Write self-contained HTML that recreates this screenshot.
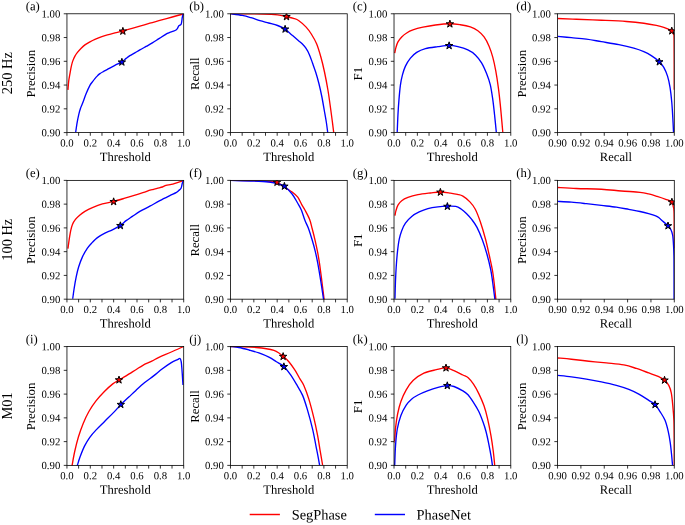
<!DOCTYPE html>
<html lang="en">
<head>
<meta charset="utf-8">
<title>Precision, Recall and F1 curves: SegPhase vs PhaseNet</title>
<style>
html,body{margin:0;padding:0;background:#fff;}
body{width:685px;height:525px;overflow:hidden;font-family:"Liberation Serif",serif;}
svg{display:block;will-change:transform;}
</style>
</head>
<body>
<svg width="685" height="525" viewBox="0 0 685 525" font-family="'Liberation Serif', serif" fill="#000">
<rect width="685" height="525" fill="#fff"/>
<defs>
<clipPath id="cpa"><rect x="66.95" y="13.78" width="116.75" height="118.8"/></clipPath>
<clipPath id="cpb"><rect x="230.48" y="13.78" width="116.75" height="118.8"/></clipPath>
<clipPath id="cpc"><rect x="394.02" y="13.78" width="116.75" height="118.8"/></clipPath>
<clipPath id="cpd"><rect x="557.55" y="13.78" width="116.75" height="118.8"/></clipPath>
<clipPath id="cpe"><rect x="66.95" y="180.38" width="116.75" height="118.8"/></clipPath>
<clipPath id="cpf"><rect x="230.48" y="180.38" width="116.75" height="118.8"/></clipPath>
<clipPath id="cpg"><rect x="394.02" y="180.38" width="116.75" height="118.8"/></clipPath>
<clipPath id="cph"><rect x="557.55" y="180.38" width="116.75" height="118.8"/></clipPath>
<clipPath id="cpi"><rect x="66.95" y="346.58" width="116.75" height="118.8"/></clipPath>
<clipPath id="cpj"><rect x="230.48" y="346.58" width="116.75" height="118.8"/></clipPath>
<clipPath id="cpk"><rect x="394.02" y="346.58" width="116.75" height="118.8"/></clipPath>
<clipPath id="cpl"><rect x="557.55" y="346.58" width="116.75" height="118.8"/></clipPath>
</defs>
<g id="plot-a">
<g clip-path="url(#cpa)" fill="none" stroke-width="1.35" stroke-linejoin="round">
<path d="M67.96 89.84 C68.08 88.38 68.38 83.8 68.71 81.1 C69.04 78.4 69.54 75.99 69.96 73.62 C70.38 71.25 70.74 68.96 71.2 66.88 C71.66 64.8 72.08 62.93 72.7 61.14 C73.33 59.35 74.16 57.6 74.95 56.15 C75.74 54.7 76.41 53.74 77.45 52.41 C78.49 51.08 79.94 49.42 81.19 48.17 C82.44 46.92 83.47 45.96 84.93 44.92 C86.39 43.88 88.27 42.84 89.93 41.93 C91.59 41.02 93.05 40.26 94.92 39.43 C96.79 38.6 99.08 37.69 101.16 36.94 C103.24 36.19 105.11 35.6 107.4 34.94 C109.69 34.27 112.31 33.62 114.89 32.95 C117.47 32.29 120.17 31.66 122.88 30.95 C125.58 30.24 128.29 29.49 131.12 28.7 C133.95 27.91 136.73 27.12 139.85 26.21 C142.97 25.3 146.51 24.18 149.84 23.22 C153.17 22.26 156.07 21.51 159.82 20.47 C163.56 19.43 168.4 18.06 172.31 16.98 C176.22 15.9 181.46 14.48 183.29 13.98" stroke="#ff0000"/>
<path d="M75.7 132.26 C75.91 130.8 76.45 126.43 76.95 123.52 C77.45 120.61 78.11 117.29 78.69 114.79 C79.27 112.3 79.81 110.42 80.44 108.55 C81.06 106.68 81.48 106.06 82.44 103.56 C83.4 101.06 84.93 96.61 86.18 93.58 C87.43 90.55 88.89 87.3 89.93 85.35 C90.97 83.39 91.59 82.97 92.42 81.85 C93.25 80.73 94.09 79.61 94.92 78.61 C95.75 77.61 96.59 76.69 97.42 75.86 C98.25 75.03 98.87 74.37 99.91 73.62 C100.95 72.87 102.41 72.08 103.66 71.37 C104.91 70.66 105.53 70.38 107.4 69.38 C109.27 68.38 112.48 66.63 114.89 65.38 C117.3 64.13 120.01 63.05 121.88 61.89 C123.75 60.73 124.79 59.44 126.12 58.4 C127.45 57.36 128.41 56.56 129.87 55.65 C131.33 54.73 133.2 53.87 134.86 52.91 C136.52 51.95 137.98 50.99 139.85 49.91 C141.72 48.83 144.01 47.58 146.09 46.42 C148.17 45.26 150.26 44.18 152.34 42.93 C154.42 41.68 156.5 40.27 158.58 38.94 C160.66 37.61 163.37 35.85 164.82 34.94 C166.27 34.02 166.48 33.87 167.31 33.45 C168.14 33.04 168.77 32.83 169.81 32.45 C170.85 32.08 172.51 31.62 173.55 31.2 C174.59 30.78 175.38 30.45 176.05 29.95 C176.72 29.45 177.13 28.83 177.55 28.21 C177.97 27.59 178.18 26.71 178.55 26.21 C178.93 25.71 179.39 25.5 179.8 25.21 C180.22 24.92 180.71 25.12 181.04 24.46 C181.37 23.8 181.58 22.38 181.79 21.22 C182 20.06 182.04 18.69 182.29 17.48 C182.54 16.27 183.12 14.56 183.29 13.98" stroke="#0000ff"/>
<path d="M122.88 27.35 L123.76 30.04 L126.59 30.04 L124.3 31.71 L125.17 34.41 L122.88 32.74 L120.59 34.41 L121.46 31.71 L119.17 30.04 L122 30.04Z" fill="#ff0000" stroke="#000" stroke-width="1.0" stroke-linejoin="miter"/>
<path d="M121.88 58.29 L122.76 60.98 L125.59 60.98 L123.3 62.65 L124.17 65.35 L121.88 63.68 L119.59 65.35 L120.46 62.65 L118.17 60.98 L121 60.98Z" fill="#0000ff" stroke="#000" stroke-width="1.0" stroke-linejoin="miter"/>
</g>
<rect x="66.95" y="13.78" width="116.75" height="118.8" fill="none" stroke="#000" stroke-width="0.8"/>
<path d="M66.95 132.58v3.2M78.62 132.58v3.2M90.3 132.58v3.2M101.97 132.58v3.2M113.65 132.58v3.2M125.33 132.58v3.2M137 132.58v3.2M148.68 132.58v3.2M160.35 132.58v3.2M172.03 132.58v3.2M183.7 132.58v3.2M66.95 132.58h-3.2M66.95 108.82h-3.2M66.95 85.06h-3.2M66.95 61.3h-3.2M66.95 37.54h-3.2M66.95 13.78h-3.2" stroke="#000" stroke-width="0.8" fill="none"/>
<g font-size="10.75">
<text x="66.95" y="146.43" transform="rotate(0.03 66.95 146.43)" text-anchor="middle">0.0</text>
<text x="90.3" y="146.43" transform="rotate(0.03 90.3 146.43)" text-anchor="middle">0.2</text>
<text x="113.65" y="146.43" transform="rotate(0.03 113.65 146.43)" text-anchor="middle">0.4</text>
<text x="137" y="146.43" transform="rotate(0.03 137 146.43)" text-anchor="middle">0.6</text>
<text x="160.35" y="146.43" transform="rotate(0.03 160.35 146.43)" text-anchor="middle">0.8</text>
<text x="183.7" y="146.43" transform="rotate(0.03 183.7 146.43)" text-anchor="middle">1.0</text>
<text x="60.25" y="136.33" transform="rotate(0.03 60.25 136.33)" text-anchor="end">0.90</text>
<text x="60.25" y="112.57" transform="rotate(0.03 60.25 112.57)" text-anchor="end">0.92</text>
<text x="60.25" y="88.81" transform="rotate(0.03 60.25 88.81)" text-anchor="end">0.94</text>
<text x="60.25" y="65.05" transform="rotate(0.03 60.25 65.05)" text-anchor="end">0.96</text>
<text x="60.25" y="41.29" transform="rotate(0.03 60.25 41.29)" text-anchor="end">0.98</text>
<text x="60.25" y="17.53" transform="rotate(0.03 60.25 17.53)" text-anchor="end">1.00</text>
</g>
<text x="125.33" y="160.98" transform="rotate(0.03 125.33 160.98)" text-anchor="middle" font-size="12.6">Threshold</text>
<text transform="translate(35.05 73.68) rotate(-90)" font-size="12.8" text-anchor="middle">Precision</text>
<text x="25.75" y="10.33" transform="rotate(0.03 25.75 10.33)" font-size="12.7">(a)</text>
</g>
<g id="plot-b">
<g clip-path="url(#cpb)" fill="none" stroke-width="1.35" stroke-linejoin="round">
<path d="M230.5 13.66 C235.98 13.72 255.55 13.79 263.4 14 C271.25 14.21 273.75 14.45 277.6 14.9 C281.45 15.35 283.85 16.12 286.5 16.7 C289.15 17.28 291.43 17.73 293.5 18.4 C295.57 19.07 296.83 19.28 298.9 20.7 C300.97 22.12 303.83 24.68 305.9 26.9 C307.97 29.12 309.52 31.18 311.3 34 C313.08 36.82 314.98 39.88 316.6 43.8 C318.22 47.72 319.68 52.8 321 57.5 C322.32 62.2 323.33 66.5 324.5 72 C325.67 77.5 326.98 84.42 328 90.5 C329.02 96.58 329.87 103.25 330.6 108.5 C331.33 113.75 331.88 118.03 332.4 122 C332.92 125.97 333.47 130.38 333.7 132.3 C333.93 134.22 333.78 133.3 333.8 133.5" stroke="#ff0000"/>
<path d="M230.5 13.66 C232.45 13.95 238.78 14.73 242.2 15.4 C245.62 16.07 248.05 16.82 251 17.7 C253.95 18.58 256.95 19.82 259.9 20.7 C262.85 21.58 265.75 22.2 268.7 23 C271.65 23.8 274.88 24.48 277.6 25.5 C280.32 26.52 282.63 27.53 285 29.1 C287.37 30.67 289.63 33.05 291.8 34.9 C293.97 36.75 296.23 38.7 298 40.2 C299.77 41.7 301.08 42.57 302.4 43.9 C303.72 45.23 304.75 46.45 305.9 48.2 C307.05 49.95 308.2 51.93 309.3 54.4 C310.4 56.87 311.42 59.98 312.5 63 C313.58 66.02 314.73 69.08 315.8 72.5 C316.87 75.92 317.9 79.5 318.9 83.5 C319.9 87.5 320.9 92 321.8 96.5 C322.7 101 323.55 106.25 324.3 110.5 C325.05 114.75 325.73 118.37 326.3 122 C326.87 125.63 327.44 130.38 327.7 132.3 C327.96 134.22 327.83 133.3 327.85 133.5" stroke="#0000ff"/>
<path d="M286.5 12.85 L287.38 15.54 L290.21 15.54 L287.92 17.21 L288.79 19.91 L286.5 18.24 L284.21 19.91 L285.08 17.21 L282.79 15.54 L285.62 15.54Z" fill="#ff0000" stroke="#000" stroke-width="1.0" stroke-linejoin="miter"/>
<path d="M285.1 25.3 L285.98 27.99 L288.81 27.99 L286.52 29.66 L287.39 32.36 L285.1 30.69 L282.81 32.36 L283.68 29.66 L281.39 27.99 L284.22 27.99Z" fill="#0000ff" stroke="#000" stroke-width="1.0" stroke-linejoin="miter"/>
</g>
<rect x="230.48" y="13.78" width="116.75" height="118.8" fill="none" stroke="#000" stroke-width="0.8"/>
<path d="M230.48 132.58v3.2M242.16 132.58v3.2M253.83 132.58v3.2M265.5 132.58v3.2M277.18 132.58v3.2M288.86 132.58v3.2M300.53 132.58v3.2M312.2 132.58v3.2M323.88 132.58v3.2M335.56 132.58v3.2M347.23 132.58v3.2M230.48 132.58h-3.2M230.48 108.82h-3.2M230.48 85.06h-3.2M230.48 61.3h-3.2M230.48 37.54h-3.2M230.48 13.78h-3.2" stroke="#000" stroke-width="0.8" fill="none"/>
<g font-size="10.75">
<text x="230.48" y="146.43" transform="rotate(0.03 230.48 146.43)" text-anchor="middle">0.0</text>
<text x="253.83" y="146.43" transform="rotate(0.03 253.83 146.43)" text-anchor="middle">0.2</text>
<text x="277.18" y="146.43" transform="rotate(0.03 277.18 146.43)" text-anchor="middle">0.4</text>
<text x="300.53" y="146.43" transform="rotate(0.03 300.53 146.43)" text-anchor="middle">0.6</text>
<text x="323.88" y="146.43" transform="rotate(0.03 323.88 146.43)" text-anchor="middle">0.8</text>
<text x="347.23" y="146.43" transform="rotate(0.03 347.23 146.43)" text-anchor="middle">1.0</text>
<text x="223.78" y="136.33" transform="rotate(0.03 223.78 136.33)" text-anchor="end">0.90</text>
<text x="223.78" y="112.57" transform="rotate(0.03 223.78 112.57)" text-anchor="end">0.92</text>
<text x="223.78" y="88.81" transform="rotate(0.03 223.78 88.81)" text-anchor="end">0.94</text>
<text x="223.78" y="65.05" transform="rotate(0.03 223.78 65.05)" text-anchor="end">0.96</text>
<text x="223.78" y="41.29" transform="rotate(0.03 223.78 41.29)" text-anchor="end">0.98</text>
<text x="223.78" y="17.53" transform="rotate(0.03 223.78 17.53)" text-anchor="end">1.00</text>
</g>
<text x="288.86" y="160.98" transform="rotate(0.03 288.86 160.98)" text-anchor="middle" font-size="12.6">Threshold</text>
<text transform="translate(198.58 73.68) rotate(-90)" font-size="12.8" text-anchor="middle">Recall</text>
<text x="189.28" y="10.33" transform="rotate(0.03 189.28 10.33)" font-size="12.7">(b)</text>
</g>
<g id="plot-c">
<g clip-path="url(#cpc)" fill="none" stroke-width="1.35" stroke-linejoin="round">
<path d="M394.71 53.16 C394.92 52.2 395.42 49.29 395.96 47.42 C396.5 45.55 397 43.68 397.96 41.93 C398.92 40.18 400.25 38.44 401.7 36.94 C403.15 35.44 404.82 34.12 406.69 32.95 C408.56 31.79 410.23 30.91 412.93 29.95 C415.63 28.99 419.18 28.04 422.92 27.21 C426.67 26.38 430.91 25.54 435.4 24.96 C439.89 24.38 445.72 23.75 449.88 23.71 C454.04 23.67 456.95 24.17 460.36 24.71 C463.77 25.25 467.44 25.96 470.35 26.96 C473.26 27.96 475.55 29.04 477.84 30.7 C480.13 32.36 482.21 34.36 484.08 36.94 C485.95 39.52 487.61 42.76 489.07 46.17 C490.53 49.58 491.7 53.24 492.82 57.4 C493.94 61.56 494.89 66.13 495.81 71.12 C496.73 76.11 497.56 81.73 498.31 87.34 C499.06 92.95 499.73 99.2 500.31 104.81 C500.89 110.42 501.38 116.45 501.8 121.03 C502.22 125.61 502.63 130.39 502.8 132.26" stroke="#ff0000"/>
<path d="M397.21 132.26 C397.33 129.35 397.67 120.2 397.96 114.79 C398.25 109.38 398.53 104.81 398.95 99.82 C399.37 94.83 399.87 89.01 400.45 84.85 C401.03 80.69 401.62 77.99 402.45 74.87 C403.28 71.75 404.12 68.92 405.45 66.13 C406.78 63.34 408.57 60.44 410.44 58.15 C412.31 55.86 414.18 53.99 416.68 52.41 C419.18 50.83 421.88 49.63 425.42 48.67 C428.96 47.71 433.95 47.21 437.9 46.67 C441.85 46.13 445.8 45.42 449.13 45.42 C452.46 45.42 454.75 45.92 457.87 46.67 C460.99 47.42 464.94 48.54 467.85 49.91 C470.76 51.28 473.05 52.74 475.34 54.9 C477.63 57.06 479.71 59.77 481.58 62.89 C483.45 66.01 485.12 69.96 486.58 73.62 C488.04 77.28 489.28 80.48 490.32 84.85 C491.36 89.22 492.11 94.83 492.82 99.82 C493.53 104.81 493.98 109.38 494.56 114.79 C495.14 120.2 496.02 129.35 496.31 132.26" stroke="#0000ff"/>
<path d="M449.88 20.11 L450.76 22.8 L453.59 22.8 L451.3 24.47 L452.17 27.17 L449.88 25.5 L447.59 27.17 L448.46 24.47 L446.17 22.8 L449 22.8Z" fill="#ff0000" stroke="#000" stroke-width="1.0" stroke-linejoin="miter"/>
<path d="M449.13 41.82 L450.01 44.51 L452.84 44.51 L450.55 46.18 L451.42 48.88 L449.13 47.21 L446.84 48.88 L447.71 46.18 L445.42 44.51 L448.25 44.51Z" fill="#0000ff" stroke="#000" stroke-width="1.0" stroke-linejoin="miter"/>
</g>
<rect x="394.02" y="13.78" width="116.75" height="118.8" fill="none" stroke="#000" stroke-width="0.8"/>
<path d="M394.02 132.58v3.2M405.69 132.58v3.2M417.37 132.58v3.2M429.04 132.58v3.2M440.72 132.58v3.2M452.39 132.58v3.2M464.07 132.58v3.2M475.75 132.58v3.2M487.42 132.58v3.2M499.09 132.58v3.2M510.77 132.58v3.2M394.02 132.58h-3.2M394.02 108.82h-3.2M394.02 85.06h-3.2M394.02 61.3h-3.2M394.02 37.54h-3.2M394.02 13.78h-3.2" stroke="#000" stroke-width="0.8" fill="none"/>
<g font-size="10.75">
<text x="394.02" y="146.43" transform="rotate(0.03 394.02 146.43)" text-anchor="middle">0.0</text>
<text x="417.37" y="146.43" transform="rotate(0.03 417.37 146.43)" text-anchor="middle">0.2</text>
<text x="440.72" y="146.43" transform="rotate(0.03 440.72 146.43)" text-anchor="middle">0.4</text>
<text x="464.07" y="146.43" transform="rotate(0.03 464.07 146.43)" text-anchor="middle">0.6</text>
<text x="487.42" y="146.43" transform="rotate(0.03 487.42 146.43)" text-anchor="middle">0.8</text>
<text x="510.77" y="146.43" transform="rotate(0.03 510.77 146.43)" text-anchor="middle">1.0</text>
<text x="387.32" y="136.33" transform="rotate(0.03 387.32 136.33)" text-anchor="end">0.90</text>
<text x="387.32" y="112.57" transform="rotate(0.03 387.32 112.57)" text-anchor="end">0.92</text>
<text x="387.32" y="88.81" transform="rotate(0.03 387.32 88.81)" text-anchor="end">0.94</text>
<text x="387.32" y="65.05" transform="rotate(0.03 387.32 65.05)" text-anchor="end">0.96</text>
<text x="387.32" y="41.29" transform="rotate(0.03 387.32 41.29)" text-anchor="end">0.98</text>
<text x="387.32" y="17.53" transform="rotate(0.03 387.32 17.53)" text-anchor="end">1.00</text>
</g>
<text x="452.39" y="160.98" transform="rotate(0.03 452.39 160.98)" text-anchor="middle" font-size="12.6">Threshold</text>
<text transform="translate(362.12 73.68) rotate(-90)" font-size="12.8" text-anchor="middle">F1</text>
<text x="352.82" y="10.33" transform="rotate(0.03 352.82 10.33)" font-size="12.7">(c)</text>
</g>
<g id="plot-d">
<g clip-path="url(#cpd)" fill="none" stroke-width="1.35" stroke-linejoin="round">
<path d="M557.69 18.47 C560.81 18.59 569.13 18.93 576.41 19.22 C583.69 19.51 593.05 19.84 601.37 20.22 C609.69 20.59 619.27 20.97 626.34 21.47 C633.41 21.97 638.82 22.55 643.81 23.22 C648.8 23.88 652.96 24.75 656.29 25.46 C659.62 26.17 661.28 26.59 663.78 27.46 C666.28 28.33 669.7 29.66 671.27 30.7 C672.84 31.74 672.73 32.25 673.2 33.7 C673.67 35.16 673.93 30.07 674.1 39.43 C674.27 48.79 674.23 81.44 674.25 89.84" stroke="#ff0000"/>
<path d="M557.69 36.44 C559.98 36.65 566.64 37.23 571.42 37.69 C576.2 38.15 581.4 38.52 586.39 39.18 C591.38 39.84 595.96 40.77 601.37 41.68 C606.78 42.59 613.44 43.59 618.85 44.67 C624.26 45.75 629.66 47.01 633.82 48.17 C637.98 49.34 640.9 50.41 643.81 51.66 C646.72 52.91 648.72 53.99 651.3 55.65 C653.88 57.31 657.21 59.69 659.29 61.64 C661.37 63.59 662.41 64.97 663.78 67.38 C665.15 69.79 666.49 72.78 667.53 76.11 C668.57 79.44 669.31 82.97 670.02 87.34 C670.73 91.71 671.31 97.32 671.77 102.31 C672.23 107.3 672.48 112.3 672.77 117.29 C673.06 122.28 673.39 129.76 673.52 132.26" stroke="#0000ff"/>
<path d="M671.77 27.1 L672.65 29.79 L675.48 29.79 L673.19 31.46 L674.06 34.16 L671.77 32.49 L669.48 34.16 L670.35 31.46 L668.06 29.79 L670.89 29.79Z" fill="#ff0000" stroke="#000" stroke-width="1.0" stroke-linejoin="miter"/>
<path d="M659.29 58.04 L660.17 60.73 L663 60.73 L660.71 62.4 L661.58 65.1 L659.29 63.43 L657 65.1 L657.87 62.4 L655.58 60.73 L658.41 60.73Z" fill="#0000ff" stroke="#000" stroke-width="1.0" stroke-linejoin="miter"/>
</g>
<rect x="557.55" y="13.78" width="116.75" height="118.8" fill="none" stroke="#000" stroke-width="0.8"/>
<path d="M557.55 132.58v3.2M580.9 132.58v3.2M604.25 132.58v3.2M627.6 132.58v3.2M650.95 132.58v3.2M674.3 132.58v3.2M557.55 132.58h-3.2M557.55 108.82h-3.2M557.55 85.06h-3.2M557.55 61.3h-3.2M557.55 37.54h-3.2M557.55 13.78h-3.2" stroke="#000" stroke-width="0.8" fill="none"/>
<g font-size="10.75">
<text x="557.55" y="146.43" transform="rotate(0.03 557.55 146.43)" text-anchor="middle">0.90</text>
<text x="580.9" y="146.43" transform="rotate(0.03 580.9 146.43)" text-anchor="middle">0.92</text>
<text x="604.25" y="146.43" transform="rotate(0.03 604.25 146.43)" text-anchor="middle">0.94</text>
<text x="627.6" y="146.43" transform="rotate(0.03 627.6 146.43)" text-anchor="middle">0.96</text>
<text x="650.95" y="146.43" transform="rotate(0.03 650.95 146.43)" text-anchor="middle">0.98</text>
<text x="674.3" y="146.43" transform="rotate(0.03 674.3 146.43)" text-anchor="middle">1.00</text>
<text x="550.85" y="136.33" transform="rotate(0.03 550.85 136.33)" text-anchor="end">0.90</text>
<text x="550.85" y="112.57" transform="rotate(0.03 550.85 112.57)" text-anchor="end">0.92</text>
<text x="550.85" y="88.81" transform="rotate(0.03 550.85 88.81)" text-anchor="end">0.94</text>
<text x="550.85" y="65.05" transform="rotate(0.03 550.85 65.05)" text-anchor="end">0.96</text>
<text x="550.85" y="41.29" transform="rotate(0.03 550.85 41.29)" text-anchor="end">0.98</text>
<text x="550.85" y="17.53" transform="rotate(0.03 550.85 17.53)" text-anchor="end">1.00</text>
</g>
<text x="615.92" y="160.98" transform="rotate(0.03 615.92 160.98)" text-anchor="middle" font-size="12.6">Recall</text>
<text transform="translate(525.65 73.68) rotate(-90)" font-size="12.8" text-anchor="middle">Precision</text>
<text x="516.35" y="10.33" transform="rotate(0.03 516.35 10.33)" font-size="12.7">(d)</text>
</g>
<text transform="translate(12.2 73.18) rotate(-90)" font-size="14.4" text-anchor="middle">250 Hz</text>
<g id="plot-e">
<g clip-path="url(#cpe)" fill="none" stroke-width="1.35" stroke-linejoin="round">
<path d="M67.96 248.6 C68.17 247.06 68.75 242.36 69.21 239.37 C69.67 236.38 70.17 233.13 70.71 230.64 C71.25 228.14 71.66 226.27 72.45 224.4 C73.24 222.53 74.2 220.99 75.45 219.41 C76.7 217.83 78.36 216.25 79.94 214.92 C81.52 213.59 82.85 212.63 84.93 211.42 C87.01 210.21 89.51 208.93 92.42 207.68 C95.33 206.43 98.87 204.98 102.41 203.94 C105.95 202.9 109.89 202.4 113.64 201.44 C117.39 200.48 121.17 199.31 124.88 198.2 C128.59 197.09 132.6 195.8 135.9 194.8 C139.2 193.8 142.35 192.98 144.7 192.2 C147.05 191.42 148.52 190.57 150 190.1 C151.48 189.63 152.42 189.7 153.6 189.4 C154.78 189.1 155.63 188.7 157.1 188.3 C158.57 187.9 160.92 187.48 162.4 187 C163.88 186.52 164.52 185.83 166 185.4 C167.48 184.97 169.53 184.83 171.3 184.4 C173.07 183.97 174.57 183.43 176.6 182.8 C178.63 182.17 182.35 180.97 183.5 180.6" stroke="#ff0000"/>
<path d="M72.7 298.76 C72.95 296.97 73.62 291.69 74.2 288.03 C74.78 284.37 75.45 280.34 76.2 276.8 C76.95 273.26 77.65 270.15 78.69 266.82 C79.73 263.49 80.98 259.96 82.44 256.84 C83.9 253.72 85.77 250.51 87.43 248.1 C89.09 245.69 90.75 244.12 92.42 242.37 C94.09 240.62 95.34 239.16 97.42 237.62 C99.5 236.08 102.41 234.42 104.91 233.13 C107.41 231.84 109.81 231.18 112.39 229.89 C114.97 228.6 118.09 226.94 120.38 225.4 C122.67 223.86 124.12 222.16 126.12 220.66 C128.12 219.16 130.07 217.96 132.36 216.42 C134.65 214.88 136.94 213.13 139.85 211.42 C142.76 209.71 146.51 207.97 149.84 206.18 C153.17 204.39 156.49 202.45 159.82 200.7 C163.15 198.95 167.1 197.03 169.81 195.7 C172.52 194.37 174.59 193.54 176.05 192.71 C177.51 191.88 177.72 191.46 178.55 190.71 C179.38 189.96 180.42 189.47 181.04 188.22 C181.66 186.97 181.91 184.48 182.29 183.23 C182.66 181.98 183.12 181.15 183.29 180.73" stroke="#0000ff"/>
<path d="M113.64 197.84 L114.52 200.53 L117.35 200.53 L115.06 202.2 L115.93 204.9 L113.64 203.23 L111.35 204.9 L112.22 202.2 L109.93 200.53 L112.76 200.53Z" fill="#ff0000" stroke="#000" stroke-width="1.0" stroke-linejoin="miter"/>
<path d="M120.38 221.8 L121.26 224.49 L124.09 224.49 L121.8 226.16 L122.67 228.86 L120.38 227.19 L118.09 228.86 L118.96 226.16 L116.67 224.49 L119.5 224.49Z" fill="#0000ff" stroke="#000" stroke-width="1.0" stroke-linejoin="miter"/>
</g>
<rect x="66.95" y="180.38" width="116.75" height="118.8" fill="none" stroke="#000" stroke-width="0.8"/>
<path d="M66.95 299.18v3.2M78.62 299.18v3.2M90.3 299.18v3.2M101.97 299.18v3.2M113.65 299.18v3.2M125.33 299.18v3.2M137 299.18v3.2M148.68 299.18v3.2M160.35 299.18v3.2M172.03 299.18v3.2M183.7 299.18v3.2M66.95 299.18h-3.2M66.95 275.42h-3.2M66.95 251.66h-3.2M66.95 227.9h-3.2M66.95 204.14h-3.2M66.95 180.38h-3.2" stroke="#000" stroke-width="0.8" fill="none"/>
<g font-size="10.75">
<text x="66.95" y="313.03" transform="rotate(0.03 66.95 313.03)" text-anchor="middle">0.0</text>
<text x="90.3" y="313.03" transform="rotate(0.03 90.3 313.03)" text-anchor="middle">0.2</text>
<text x="113.65" y="313.03" transform="rotate(0.03 113.65 313.03)" text-anchor="middle">0.4</text>
<text x="137" y="313.03" transform="rotate(0.03 137 313.03)" text-anchor="middle">0.6</text>
<text x="160.35" y="313.03" transform="rotate(0.03 160.35 313.03)" text-anchor="middle">0.8</text>
<text x="183.7" y="313.03" transform="rotate(0.03 183.7 313.03)" text-anchor="middle">1.0</text>
<text x="60.25" y="302.93" transform="rotate(0.03 60.25 302.93)" text-anchor="end">0.90</text>
<text x="60.25" y="279.17" transform="rotate(0.03 60.25 279.17)" text-anchor="end">0.92</text>
<text x="60.25" y="255.41" transform="rotate(0.03 60.25 255.41)" text-anchor="end">0.94</text>
<text x="60.25" y="231.65" transform="rotate(0.03 60.25 231.65)" text-anchor="end">0.96</text>
<text x="60.25" y="207.89" transform="rotate(0.03 60.25 207.89)" text-anchor="end">0.98</text>
<text x="60.25" y="184.13" transform="rotate(0.03 60.25 184.13)" text-anchor="end">1.00</text>
</g>
<text x="125.33" y="327.58" transform="rotate(0.03 125.33 327.58)" text-anchor="middle" font-size="12.6">Threshold</text>
<text transform="translate(35.05 240.28) rotate(-90)" font-size="12.8" text-anchor="middle">Precision</text>
<text x="25.75" y="176.93" transform="rotate(0.03 25.75 176.93)" font-size="12.7">(e)</text>
</g>
<g id="plot-f">
<g clip-path="url(#cpf)" fill="none" stroke-width="1.35" stroke-linejoin="round">
<path d="M230.5 180.4 C234.4 180.45 247.5 180.52 253.9 180.7 C260.3 180.88 265.05 181.22 268.9 181.5 C272.75 181.78 274.25 181.34 277 182.4 C279.75 183.46 282.88 186.26 285.4 187.85 C287.92 189.44 290.04 190.42 292.1 191.96 C294.16 193.5 296.12 194.96 297.75 197.1 C299.38 199.24 300.66 202.65 301.86 204.8 C303.06 206.95 303.65 207.59 304.94 210 C306.23 212.41 308.37 216.17 309.57 219.25 C310.77 222.33 311.2 224.91 312.14 228.5 C313.08 232.09 314.26 236.68 315.2 240.8 C316.14 244.92 317.08 249.43 317.8 253.2 C318.52 256.97 318.85 258.93 319.5 263.4 C320.15 267.87 320.95 274.18 321.7 280 C322.45 285.82 323.57 294.88 324 298.3 C324.43 301.72 324.25 300.13 324.3 300.5" stroke="#ff0000"/>
<path d="M230.5 180.4 C234.4 180.5 247.5 180.73 253.9 181 C260.3 181.27 264.73 181.5 268.9 182 C273.07 182.5 276.32 183.28 278.9 184 C281.48 184.72 282.19 184.64 284.39 186.31 C286.59 187.98 289.87 191.19 292.1 194.01 C294.33 196.83 296.21 200.59 297.75 203.26 C299.29 205.92 300.16 207.16 301.35 210 C302.54 212.84 303.71 217.22 304.9 220.3 C306.09 223.38 307.3 225.25 308.5 228.5 C309.7 231.75 310.98 236.03 312.1 239.8 C313.22 243.57 314.25 247.17 315.2 251.1 C316.15 255.03 316.9 258.58 317.8 263.4 C318.7 268.22 319.67 274.18 320.6 280 C321.53 285.82 322.87 294.88 323.4 298.3 C323.93 301.72 323.73 300.13 323.8 300.5" stroke="#0000ff"/>
<path d="M277 178.5 L277.88 181.19 L280.71 181.19 L278.42 182.86 L279.29 185.56 L277 183.89 L274.71 185.56 L275.58 182.86 L273.29 181.19 L276.12 181.19Z" fill="#ff0000" stroke="#000" stroke-width="1.0" stroke-linejoin="miter"/>
<path d="M284.4 182.4 L285.28 185.09 L288.11 185.09 L285.82 186.76 L286.69 189.46 L284.4 187.79 L282.11 189.46 L282.98 186.76 L280.69 185.09 L283.52 185.09Z" fill="#0000ff" stroke="#000" stroke-width="1.0" stroke-linejoin="miter"/>
</g>
<rect x="230.48" y="180.38" width="116.75" height="118.8" fill="none" stroke="#000" stroke-width="0.8"/>
<path d="M230.48 299.18v3.2M242.16 299.18v3.2M253.83 299.18v3.2M265.5 299.18v3.2M277.18 299.18v3.2M288.86 299.18v3.2M300.53 299.18v3.2M312.2 299.18v3.2M323.88 299.18v3.2M335.56 299.18v3.2M347.23 299.18v3.2M230.48 299.18h-3.2M230.48 275.42h-3.2M230.48 251.66h-3.2M230.48 227.9h-3.2M230.48 204.14h-3.2M230.48 180.38h-3.2" stroke="#000" stroke-width="0.8" fill="none"/>
<g font-size="10.75">
<text x="230.48" y="313.03" transform="rotate(0.03 230.48 313.03)" text-anchor="middle">0.0</text>
<text x="253.83" y="313.03" transform="rotate(0.03 253.83 313.03)" text-anchor="middle">0.2</text>
<text x="277.18" y="313.03" transform="rotate(0.03 277.18 313.03)" text-anchor="middle">0.4</text>
<text x="300.53" y="313.03" transform="rotate(0.03 300.53 313.03)" text-anchor="middle">0.6</text>
<text x="323.88" y="313.03" transform="rotate(0.03 323.88 313.03)" text-anchor="middle">0.8</text>
<text x="347.23" y="313.03" transform="rotate(0.03 347.23 313.03)" text-anchor="middle">1.0</text>
<text x="223.78" y="302.93" transform="rotate(0.03 223.78 302.93)" text-anchor="end">0.90</text>
<text x="223.78" y="279.17" transform="rotate(0.03 223.78 279.17)" text-anchor="end">0.92</text>
<text x="223.78" y="255.41" transform="rotate(0.03 223.78 255.41)" text-anchor="end">0.94</text>
<text x="223.78" y="231.65" transform="rotate(0.03 223.78 231.65)" text-anchor="end">0.96</text>
<text x="223.78" y="207.89" transform="rotate(0.03 223.78 207.89)" text-anchor="end">0.98</text>
<text x="223.78" y="184.13" transform="rotate(0.03 223.78 184.13)" text-anchor="end">1.00</text>
</g>
<text x="288.86" y="327.58" transform="rotate(0.03 288.86 327.58)" text-anchor="middle" font-size="12.6">Threshold</text>
<text transform="translate(198.58 240.28) rotate(-90)" font-size="12.8" text-anchor="middle">Recall</text>
<text x="189.28" y="176.93" transform="rotate(0.03 189.28 176.93)" font-size="12.7">(f)</text>
</g>
<g id="plot-g">
<g clip-path="url(#cpg)" fill="none" stroke-width="1.35" stroke-linejoin="round">
<path d="M394.96 215.67 C395.13 214.84 395.46 212.43 395.96 210.68 C396.46 208.93 397 206.85 397.96 205.19 C398.92 203.53 400.04 201.99 401.7 200.7 C403.36 199.41 405.24 198.45 407.94 197.45 C410.64 196.45 414.19 195.46 417.93 194.71 C421.68 193.96 426.67 193.42 430.41 192.96 C434.15 192.5 437.04 191.94 440.39 191.96 C443.74 191.98 447.65 192.69 450.5 193.1 C453.35 193.51 455.43 193.88 457.5 194.4 C459.57 194.92 460.83 194.95 462.9 196.2 C464.97 197.45 467.83 199.73 469.9 201.9 C471.97 204.07 473.55 205.85 475.3 209.2 C477.05 212.55 478.68 216.95 480.4 222 C482.12 227.05 484.12 233.92 485.6 239.5 C487.08 245.08 488.17 250.42 489.3 255.5 C490.43 260.58 491.6 265.5 492.4 270 C493.2 274.5 493.52 277.58 494.1 282.5 C494.68 287.42 495.6 296.67 495.9 299.5" stroke="#ff0000"/>
<path d="M394.96 298.76 C395.04 295.93 395.25 287.11 395.46 281.79 C395.67 276.47 395.88 271.81 396.21 266.82 C396.54 261.83 396.96 256.43 397.46 251.85 C397.96 247.28 398.49 242.91 399.2 239.37 C399.91 235.84 400.66 233.34 401.7 230.64 C402.74 227.94 403.78 225.52 405.45 223.15 C407.12 220.78 409.4 218.29 411.69 216.42 C413.98 214.55 416.48 213.21 419.18 211.92 C421.88 210.63 424.79 209.51 427.91 208.68 C431.03 207.85 434.65 207.35 437.9 206.93 C441.14 206.51 444.4 206.27 447.38 206.18 C450.36 206.09 453.51 205.93 455.8 206.4 C458.09 206.87 459.33 207.83 461.1 209 C462.87 210.17 464.63 211.67 466.4 213.4 C468.17 215.13 469.93 217.07 471.7 219.4 C473.47 221.73 475.22 223.97 477 227.4 C478.78 230.83 480.75 235.57 482.4 240 C484.05 244.43 485.52 249.08 486.9 254 C488.28 258.92 489.73 264.75 490.7 269.5 C491.67 274.25 492 277.5 492.7 282.5 C493.4 287.5 494.53 296.67 494.9 299.5" stroke="#0000ff"/>
<path d="M440.39 188.36 L441.27 191.05 L444.1 191.05 L441.81 192.72 L442.68 195.42 L440.39 193.75 L438.1 195.42 L438.97 192.72 L436.68 191.05 L439.51 191.05Z" fill="#ff0000" stroke="#000" stroke-width="1.0" stroke-linejoin="miter"/>
<path d="M447.38 202.58 L448.26 205.27 L451.09 205.27 L448.8 206.94 L449.67 209.64 L447.38 207.97 L445.09 209.64 L445.96 206.94 L443.67 205.27 L446.5 205.27Z" fill="#0000ff" stroke="#000" stroke-width="1.0" stroke-linejoin="miter"/>
</g>
<rect x="394.02" y="180.38" width="116.75" height="118.8" fill="none" stroke="#000" stroke-width="0.8"/>
<path d="M394.02 299.18v3.2M405.69 299.18v3.2M417.37 299.18v3.2M429.04 299.18v3.2M440.72 299.18v3.2M452.39 299.18v3.2M464.07 299.18v3.2M475.75 299.18v3.2M487.42 299.18v3.2M499.09 299.18v3.2M510.77 299.18v3.2M394.02 299.18h-3.2M394.02 275.42h-3.2M394.02 251.66h-3.2M394.02 227.9h-3.2M394.02 204.14h-3.2M394.02 180.38h-3.2" stroke="#000" stroke-width="0.8" fill="none"/>
<g font-size="10.75">
<text x="394.02" y="313.03" transform="rotate(0.03 394.02 313.03)" text-anchor="middle">0.0</text>
<text x="417.37" y="313.03" transform="rotate(0.03 417.37 313.03)" text-anchor="middle">0.2</text>
<text x="440.72" y="313.03" transform="rotate(0.03 440.72 313.03)" text-anchor="middle">0.4</text>
<text x="464.07" y="313.03" transform="rotate(0.03 464.07 313.03)" text-anchor="middle">0.6</text>
<text x="487.42" y="313.03" transform="rotate(0.03 487.42 313.03)" text-anchor="middle">0.8</text>
<text x="510.77" y="313.03" transform="rotate(0.03 510.77 313.03)" text-anchor="middle">1.0</text>
<text x="387.32" y="302.93" transform="rotate(0.03 387.32 302.93)" text-anchor="end">0.90</text>
<text x="387.32" y="279.17" transform="rotate(0.03 387.32 279.17)" text-anchor="end">0.92</text>
<text x="387.32" y="255.41" transform="rotate(0.03 387.32 255.41)" text-anchor="end">0.94</text>
<text x="387.32" y="231.65" transform="rotate(0.03 387.32 231.65)" text-anchor="end">0.96</text>
<text x="387.32" y="207.89" transform="rotate(0.03 387.32 207.89)" text-anchor="end">0.98</text>
<text x="387.32" y="184.13" transform="rotate(0.03 387.32 184.13)" text-anchor="end">1.00</text>
</g>
<text x="452.39" y="327.58" transform="rotate(0.03 452.39 327.58)" text-anchor="middle" font-size="12.6">Threshold</text>
<text transform="translate(362.12 240.28) rotate(-90)" font-size="12.8" text-anchor="middle">F1</text>
<text x="352.82" y="176.93" transform="rotate(0.03 352.82 176.93)" font-size="12.7">(g)</text>
</g>
<g id="plot-h">
<g clip-path="url(#cph)" fill="none" stroke-width="1.35" stroke-linejoin="round">
<path d="M557.55 187.47 C560.69 187.64 569.11 188.18 576.41 188.47 C583.71 188.76 593.88 188.81 601.37 189.22 C608.86 189.63 614.9 190.45 621.34 190.96 C627.78 191.47 635.46 191.81 640 192.3 C644.54 192.79 645.75 193.22 648.6 193.9 C651.45 194.58 654.25 195.5 657.1 196.4 C659.95 197.3 663.27 198.38 665.7 199.3 C668.13 200.22 670.45 200.72 671.7 201.9 C672.95 203.08 672.8 204.45 673.2 206.4 C673.6 208.35 673.93 206.65 674.1 213.6 C674.27 220.55 674.23 242.35 674.25 248.1" stroke="#ff0000"/>
<path d="M557.55 201.44 C559.86 201.56 566.61 201.81 571.42 202.19 C576.23 202.56 581.4 203.15 586.39 203.69 C591.38 204.23 596.38 204.86 601.37 205.44 C606.36 206.02 611.77 206.52 616.35 207.18 C620.93 207.84 624.89 208.68 628.83 209.4 C632.77 210.12 636.71 210.8 640 211.5 C643.29 212.2 645.98 212.88 648.6 213.6 C651.22 214.32 653.97 215.12 655.7 215.8 C657.43 216.48 658.05 217 659 217.7 C659.95 218.4 659.92 218.67 661.4 220 C662.88 221.33 666.35 224.15 667.9 225.7 C669.45 227.25 669.92 227.75 670.7 229.3 C671.48 230.85 672.13 232.38 672.6 235 C673.07 237.62 673.27 240.95 673.5 245 C673.73 249.05 673.9 250.22 674 259.3 C674.1 268.38 674.08 292.8 674.1 299.5" stroke="#0000ff"/>
<path d="M671.9 198.2 L672.78 200.89 L675.61 200.89 L673.32 202.56 L674.19 205.26 L671.9 203.59 L669.61 205.26 L670.48 202.56 L668.19 200.89 L671.02 200.89Z" fill="#ff0000" stroke="#000" stroke-width="1.0" stroke-linejoin="miter"/>
<path d="M668 222 L668.88 224.69 L671.71 224.69 L669.42 226.36 L670.29 229.06 L668 227.39 L665.71 229.06 L666.58 226.36 L664.29 224.69 L667.12 224.69Z" fill="#0000ff" stroke="#000" stroke-width="1.0" stroke-linejoin="miter"/>
</g>
<rect x="557.55" y="180.38" width="116.75" height="118.8" fill="none" stroke="#000" stroke-width="0.8"/>
<path d="M557.55 299.18v3.2M580.9 299.18v3.2M604.25 299.18v3.2M627.6 299.18v3.2M650.95 299.18v3.2M674.3 299.18v3.2M557.55 299.18h-3.2M557.55 275.42h-3.2M557.55 251.66h-3.2M557.55 227.9h-3.2M557.55 204.14h-3.2M557.55 180.38h-3.2" stroke="#000" stroke-width="0.8" fill="none"/>
<g font-size="10.75">
<text x="557.55" y="313.03" transform="rotate(0.03 557.55 313.03)" text-anchor="middle">0.90</text>
<text x="580.9" y="313.03" transform="rotate(0.03 580.9 313.03)" text-anchor="middle">0.92</text>
<text x="604.25" y="313.03" transform="rotate(0.03 604.25 313.03)" text-anchor="middle">0.94</text>
<text x="627.6" y="313.03" transform="rotate(0.03 627.6 313.03)" text-anchor="middle">0.96</text>
<text x="650.95" y="313.03" transform="rotate(0.03 650.95 313.03)" text-anchor="middle">0.98</text>
<text x="674.3" y="313.03" transform="rotate(0.03 674.3 313.03)" text-anchor="middle">1.00</text>
<text x="550.85" y="302.93" transform="rotate(0.03 550.85 302.93)" text-anchor="end">0.90</text>
<text x="550.85" y="279.17" transform="rotate(0.03 550.85 279.17)" text-anchor="end">0.92</text>
<text x="550.85" y="255.41" transform="rotate(0.03 550.85 255.41)" text-anchor="end">0.94</text>
<text x="550.85" y="231.65" transform="rotate(0.03 550.85 231.65)" text-anchor="end">0.96</text>
<text x="550.85" y="207.89" transform="rotate(0.03 550.85 207.89)" text-anchor="end">0.98</text>
<text x="550.85" y="184.13" transform="rotate(0.03 550.85 184.13)" text-anchor="end">1.00</text>
</g>
<text x="615.92" y="327.58" transform="rotate(0.03 615.92 327.58)" text-anchor="middle" font-size="12.6">Recall</text>
<text transform="translate(525.65 240.28) rotate(-90)" font-size="12.8" text-anchor="middle">Precision</text>
<text x="516.35" y="176.93" transform="rotate(0.03 516.35 176.93)" font-size="12.7">(h)</text>
</g>
<text transform="translate(12.2 239.78) rotate(-90)" font-size="14.4" text-anchor="middle">100 Hz</text>
<g id="plot-i">
<g clip-path="url(#cpi)" fill="none" stroke-width="1.35" stroke-linejoin="round">
<path d="M71.9 466.5 C71.93 466.3 71.63 467.8 72.1 465.3 C72.57 462.8 73.65 456.22 74.7 451.5 C75.75 446.78 76.98 441.68 78.4 437 C79.82 432.32 81.45 427.65 83.2 423.4 C84.95 419.15 86.77 415.25 88.9 411.5 C91.03 407.75 93.42 404.23 96 400.9 C98.58 397.57 101.6 394.33 104.4 391.5 C107.2 388.67 110.37 385.82 112.8 383.9 C115.23 381.98 116.78 381.33 119 380 C121.22 378.67 123.28 377.62 126.1 375.9 C128.92 374.18 133.1 371.47 135.9 369.7 C138.7 367.93 140.25 366.72 142.9 365.3 C145.55 363.88 149.13 362.53 151.8 361.2 C154.47 359.87 155.65 358.83 158.9 357.3 C162.15 355.77 167.17 353.82 171.3 352 C175.43 350.18 181.63 347.33 183.7 346.4" stroke="#ff0000"/>
<path d="M77.1 466.5 C77.15 466.3 76.9 466.92 77.4 465.3 C77.9 463.68 78.92 460 80.1 456.8 C81.28 453.6 82.88 449.35 84.5 446.1 C86.12 442.85 87.82 440.05 89.8 437.3 C91.78 434.55 93.9 432.28 96.4 429.6 C98.9 426.92 101.92 424.07 104.8 421.2 C107.68 418.33 111.03 415.17 113.7 412.4 C116.37 409.63 118.28 407.15 120.8 404.6 C123.32 402.05 126.28 399.47 128.8 397.1 C131.32 394.73 133.25 392.82 135.9 390.4 C138.55 387.98 141.75 385.02 144.7 382.6 C147.65 380.18 150.65 378.2 153.6 375.9 C156.55 373.6 159.45 371.02 162.4 368.8 C165.35 366.58 168.78 364.13 171.3 362.6 C173.82 361.07 176.03 360.28 177.5 359.6 C178.97 358.92 179.48 358.15 180.1 358.5 C180.72 358.85 180.9 359.98 181.2 361.7 C181.5 363.42 181.63 365.4 181.9 368.8 C182.17 372.2 182.62 379.4 182.8 382.1 C182.98 384.8 182.97 384.52 183 385" stroke="#0000ff"/>
<path d="M119 376.1 L119.88 378.79 L122.71 378.79 L120.42 380.46 L121.29 383.16 L119 381.49 L116.71 383.16 L117.58 380.46 L115.29 378.79 L118.12 378.79Z" fill="#ff0000" stroke="#000" stroke-width="1.0" stroke-linejoin="miter"/>
<path d="M120.8 400.7 L121.68 403.39 L124.51 403.39 L122.22 405.06 L123.09 407.76 L120.8 406.09 L118.51 407.76 L119.38 405.06 L117.09 403.39 L119.92 403.39Z" fill="#0000ff" stroke="#000" stroke-width="1.0" stroke-linejoin="miter"/>
</g>
<rect x="66.95" y="346.58" width="116.75" height="118.8" fill="none" stroke="#000" stroke-width="0.8"/>
<path d="M66.95 465.38v3.2M78.62 465.38v3.2M90.3 465.38v3.2M101.97 465.38v3.2M113.65 465.38v3.2M125.33 465.38v3.2M137 465.38v3.2M148.68 465.38v3.2M160.35 465.38v3.2M172.03 465.38v3.2M183.7 465.38v3.2M66.95 465.38h-3.2M66.95 441.62h-3.2M66.95 417.86h-3.2M66.95 394.1h-3.2M66.95 370.34h-3.2M66.95 346.58h-3.2" stroke="#000" stroke-width="0.8" fill="none"/>
<g font-size="10.75">
<text x="66.95" y="479.23" transform="rotate(0.03 66.95 479.23)" text-anchor="middle">0.0</text>
<text x="90.3" y="479.23" transform="rotate(0.03 90.3 479.23)" text-anchor="middle">0.2</text>
<text x="113.65" y="479.23" transform="rotate(0.03 113.65 479.23)" text-anchor="middle">0.4</text>
<text x="137" y="479.23" transform="rotate(0.03 137 479.23)" text-anchor="middle">0.6</text>
<text x="160.35" y="479.23" transform="rotate(0.03 160.35 479.23)" text-anchor="middle">0.8</text>
<text x="183.7" y="479.23" transform="rotate(0.03 183.7 479.23)" text-anchor="middle">1.0</text>
<text x="60.25" y="469.13" transform="rotate(0.03 60.25 469.13)" text-anchor="end">0.90</text>
<text x="60.25" y="445.37" transform="rotate(0.03 60.25 445.37)" text-anchor="end">0.92</text>
<text x="60.25" y="421.61" transform="rotate(0.03 60.25 421.61)" text-anchor="end">0.94</text>
<text x="60.25" y="397.85" transform="rotate(0.03 60.25 397.85)" text-anchor="end">0.96</text>
<text x="60.25" y="374.09" transform="rotate(0.03 60.25 374.09)" text-anchor="end">0.98</text>
<text x="60.25" y="350.33" transform="rotate(0.03 60.25 350.33)" text-anchor="end">1.00</text>
</g>
<text x="125.33" y="493.78" transform="rotate(0.03 125.33 493.78)" text-anchor="middle" font-size="12.6">Threshold</text>
<text transform="translate(35.05 406.48) rotate(-90)" font-size="12.8" text-anchor="middle">Precision</text>
<text x="25.75" y="343.13" transform="rotate(0.03 25.75 343.13)" font-size="12.7">(i)</text>
</g>
<g id="plot-j">
<g clip-path="url(#cpj)" fill="none" stroke-width="1.35" stroke-linejoin="round">
<path d="M230.71 346.48 C232.92 346.52 239.66 346.56 243.94 346.73 C248.22 346.9 252.68 347.15 256.42 347.48 C260.17 347.81 263.5 348.23 266.41 348.73 C269.32 349.23 271.82 349.77 273.9 350.48 C275.98 351.19 277.35 352.01 278.89 352.97 C280.43 353.93 281.46 354.77 283.13 356.22 C284.8 357.68 286.88 359.33 288.88 361.7 C290.88 364.07 293.25 367.53 295.12 370.44 C296.99 373.35 298.66 376.68 300.11 379.17 C301.56 381.67 302.39 382.08 303.85 385.41 C305.31 388.74 307.19 393.72 308.85 399.13 C310.51 404.54 312.38 411.82 313.84 417.85 C315.29 423.88 316.54 429.9 317.58 435.31 C318.62 440.72 319.25 445.34 320.08 450.29 C320.91 455.24 322.16 462.56 322.58 465.01" stroke="#ff0000"/>
<path d="M230.71 346.48 C232.08 346.65 235.91 346.9 238.95 347.48 C241.99 348.06 245.6 349.06 248.93 349.98 C252.26 350.9 255.59 351.77 258.92 352.97 C262.25 354.18 266 355.75 268.91 357.21 C271.82 358.66 273.89 360.16 276.39 361.7 C278.88 363.24 281.59 364.37 283.88 366.45 C286.17 368.53 288.04 371.23 290.12 374.18 C292.2 377.13 294.28 380.62 296.36 384.16 C298.44 387.7 300.74 391.02 302.61 395.39 C304.48 399.76 305.94 404.75 307.6 410.36 C309.26 415.98 311.22 423.26 312.59 429.08 C313.96 434.9 314.97 440.93 315.84 445.3 C316.71 449.67 317.21 452 317.83 455.28 C318.45 458.56 319.29 463.39 319.58 465.01" stroke="#0000ff"/>
<path d="M283.13 352.62 L284.01 355.31 L286.84 355.31 L284.55 356.98 L285.42 359.68 L283.13 358.01 L280.84 359.68 L281.71 356.98 L279.42 355.31 L282.25 355.31Z" fill="#ff0000" stroke="#000" stroke-width="1.0" stroke-linejoin="miter"/>
<path d="M283.88 362.85 L284.76 365.54 L287.59 365.54 L285.3 367.21 L286.17 369.91 L283.88 368.24 L281.59 369.91 L282.46 367.21 L280.17 365.54 L283 365.54Z" fill="#0000ff" stroke="#000" stroke-width="1.0" stroke-linejoin="miter"/>
</g>
<rect x="230.48" y="346.58" width="116.75" height="118.8" fill="none" stroke="#000" stroke-width="0.8"/>
<path d="M230.48 465.38v3.2M242.16 465.38v3.2M253.83 465.38v3.2M265.5 465.38v3.2M277.18 465.38v3.2M288.86 465.38v3.2M300.53 465.38v3.2M312.2 465.38v3.2M323.88 465.38v3.2M335.56 465.38v3.2M347.23 465.38v3.2M230.48 465.38h-3.2M230.48 441.62h-3.2M230.48 417.86h-3.2M230.48 394.1h-3.2M230.48 370.34h-3.2M230.48 346.58h-3.2" stroke="#000" stroke-width="0.8" fill="none"/>
<g font-size="10.75">
<text x="230.48" y="479.23" transform="rotate(0.03 230.48 479.23)" text-anchor="middle">0.0</text>
<text x="253.83" y="479.23" transform="rotate(0.03 253.83 479.23)" text-anchor="middle">0.2</text>
<text x="277.18" y="479.23" transform="rotate(0.03 277.18 479.23)" text-anchor="middle">0.4</text>
<text x="300.53" y="479.23" transform="rotate(0.03 300.53 479.23)" text-anchor="middle">0.6</text>
<text x="323.88" y="479.23" transform="rotate(0.03 323.88 479.23)" text-anchor="middle">0.8</text>
<text x="347.23" y="479.23" transform="rotate(0.03 347.23 479.23)" text-anchor="middle">1.0</text>
<text x="223.78" y="469.13" transform="rotate(0.03 223.78 469.13)" text-anchor="end">0.90</text>
<text x="223.78" y="445.37" transform="rotate(0.03 223.78 445.37)" text-anchor="end">0.92</text>
<text x="223.78" y="421.61" transform="rotate(0.03 223.78 421.61)" text-anchor="end">0.94</text>
<text x="223.78" y="397.85" transform="rotate(0.03 223.78 397.85)" text-anchor="end">0.96</text>
<text x="223.78" y="374.09" transform="rotate(0.03 223.78 374.09)" text-anchor="end">0.98</text>
<text x="223.78" y="350.33" transform="rotate(0.03 223.78 350.33)" text-anchor="end">1.00</text>
</g>
<text x="288.86" y="493.78" transform="rotate(0.03 288.86 493.78)" text-anchor="middle" font-size="12.6">Threshold</text>
<text transform="translate(198.58 406.48) rotate(-90)" font-size="12.8" text-anchor="middle">Recall</text>
<text x="189.28" y="343.13" transform="rotate(0.03 189.28 343.13)" font-size="12.7">(j)</text>
</g>
<g id="plot-k">
<g clip-path="url(#cpk)" fill="none" stroke-width="1.35" stroke-linejoin="round">
<path d="M394.5 441.5 C394.53 441.38 394.53 442.98 394.7 440.8 C394.87 438.62 395.02 432.87 395.5 428.4 C395.98 423.93 396.7 418.48 397.6 414 C398.5 409.52 399.47 405.53 400.9 401.5 C402.33 397.47 404.13 393.33 406.2 389.8 C408.27 386.27 410.35 383.07 413.3 380.3 C416.25 377.53 420.07 374.97 423.9 373.2 C427.73 371.43 432.62 370.58 436.3 369.7 C439.98 368.82 443.05 367.75 446 367.9 C448.95 368.05 451.18 369.42 454 370.6 C456.82 371.78 460.53 373.82 462.9 375 C465.27 376.18 466.43 376.17 468.2 377.7 C469.97 379.23 471.73 381.55 473.5 384.2 C475.27 386.85 477.05 390 478.8 393.6 C480.55 397.2 482.53 401.6 484 405.8 C485.47 410 486.43 413.8 487.6 418.8 C488.77 423.8 490.05 430.35 491 435.8 C491.95 441.25 492.68 446.58 493.3 451.5 C493.92 456.42 494.43 462.8 494.7 465.3 C494.97 467.8 494.87 466.3 494.9 466.5" stroke="#ff0000"/>
<path d="M394.6 466.5 C394.62 466.3 394.55 468.7 394.7 465.3 C394.85 461.9 395.07 452.15 395.5 446.1 C395.93 440.05 396.4 434.1 397.3 429 C398.2 423.9 399.42 419.47 400.9 415.5 C402.38 411.53 404.43 407.92 406.2 405.2 C407.97 402.48 409.53 400.9 411.5 399.2 C413.47 397.5 415.35 396.38 418 395 C420.65 393.62 424.05 392.17 427.4 390.9 C430.75 389.63 434.78 388.28 438.1 387.4 C441.42 386.52 444.65 385.75 447.3 385.6 C449.95 385.45 451.4 385.62 454 386.5 C456.6 387.38 460.57 389.52 462.9 390.9 C465.23 392.28 466.23 392.87 468 394.8 C469.77 396.73 471.7 399.72 473.5 402.5 C475.3 405.28 477.18 408.17 478.8 411.5 C480.42 414.83 482 419.17 483.2 422.5 C484.4 425.83 485.12 428.15 486 431.5 C486.88 434.85 487.63 438.38 488.5 442.6 C489.37 446.82 490.55 453.02 491.2 456.8 C491.85 460.58 492.17 463.68 492.4 465.3 C492.63 466.92 492.57 466.3 492.6 466.5" stroke="#0000ff"/>
<path d="M446 364.1 L446.88 366.79 L449.71 366.79 L447.42 368.46 L448.29 371.16 L446 369.49 L443.71 371.16 L444.58 368.46 L442.29 366.79 L445.12 366.79Z" fill="#ff0000" stroke="#000" stroke-width="1.0" stroke-linejoin="miter"/>
<path d="M447.3 381.8 L448.18 384.49 L451.01 384.49 L448.72 386.16 L449.59 388.86 L447.3 387.19 L445.01 388.86 L445.88 386.16 L443.59 384.49 L446.42 384.49Z" fill="#0000ff" stroke="#000" stroke-width="1.0" stroke-linejoin="miter"/>
</g>
<rect x="394.02" y="346.58" width="116.75" height="118.8" fill="none" stroke="#000" stroke-width="0.8"/>
<path d="M394.02 465.38v3.2M405.69 465.38v3.2M417.37 465.38v3.2M429.04 465.38v3.2M440.72 465.38v3.2M452.39 465.38v3.2M464.07 465.38v3.2M475.75 465.38v3.2M487.42 465.38v3.2M499.09 465.38v3.2M510.77 465.38v3.2M394.02 465.38h-3.2M394.02 441.62h-3.2M394.02 417.86h-3.2M394.02 394.1h-3.2M394.02 370.34h-3.2M394.02 346.58h-3.2" stroke="#000" stroke-width="0.8" fill="none"/>
<g font-size="10.75">
<text x="394.02" y="479.23" transform="rotate(0.03 394.02 479.23)" text-anchor="middle">0.0</text>
<text x="417.37" y="479.23" transform="rotate(0.03 417.37 479.23)" text-anchor="middle">0.2</text>
<text x="440.72" y="479.23" transform="rotate(0.03 440.72 479.23)" text-anchor="middle">0.4</text>
<text x="464.07" y="479.23" transform="rotate(0.03 464.07 479.23)" text-anchor="middle">0.6</text>
<text x="487.42" y="479.23" transform="rotate(0.03 487.42 479.23)" text-anchor="middle">0.8</text>
<text x="510.77" y="479.23" transform="rotate(0.03 510.77 479.23)" text-anchor="middle">1.0</text>
<text x="387.32" y="469.13" transform="rotate(0.03 387.32 469.13)" text-anchor="end">0.90</text>
<text x="387.32" y="445.37" transform="rotate(0.03 387.32 445.37)" text-anchor="end">0.92</text>
<text x="387.32" y="421.61" transform="rotate(0.03 387.32 421.61)" text-anchor="end">0.94</text>
<text x="387.32" y="397.85" transform="rotate(0.03 387.32 397.85)" text-anchor="end">0.96</text>
<text x="387.32" y="374.09" transform="rotate(0.03 387.32 374.09)" text-anchor="end">0.98</text>
<text x="387.32" y="350.33" transform="rotate(0.03 387.32 350.33)" text-anchor="end">1.00</text>
</g>
<text x="452.39" y="493.78" transform="rotate(0.03 452.39 493.78)" text-anchor="middle" font-size="12.6">Threshold</text>
<text transform="translate(362.12 406.48) rotate(-90)" font-size="12.8" text-anchor="middle">F1</text>
<text x="352.82" y="343.13" transform="rotate(0.03 352.82 343.13)" font-size="12.7">(k)</text>
</g>
<g id="plot-l">
<g clip-path="url(#cpl)" fill="none" stroke-width="1.35" stroke-linejoin="round">
<path d="M557.69 357.96 C559.98 358.17 566.22 358.67 571.42 359.21 C576.62 359.75 583.07 360.59 588.89 361.21 C594.71 361.83 600.53 362.33 606.36 362.95 C612.19 363.57 618.85 364.03 623.84 364.95 C628.83 365.87 632.16 367.11 636.32 368.44 C640.48 369.77 645.05 371.56 648.8 372.93 C652.54 374.3 656.17 375.51 658.79 376.68 C661.41 377.85 662.87 378.47 664.53 379.92 C666.19 381.38 667.65 383.25 668.77 385.41 C669.89 387.57 670.6 389.57 671.27 392.9 C671.94 396.23 672.33 400.8 672.77 405.37 C673.21 409.94 673.66 414.93 673.9 420.34 C674.14 425.75 674.14 430.12 674.2 437.81 C674.26 445.5 674.24 461.72 674.25 466.5" stroke="#ff0000"/>
<path d="M557.69 375.43 C559.98 375.68 566.64 376.31 571.42 376.93 C576.2 377.55 581.4 378.34 586.39 379.17 C591.38 380 596.38 380.88 601.37 381.92 C606.36 382.96 611.77 384.16 616.35 385.41 C620.93 386.66 625.09 387.94 628.83 389.4 C632.58 390.85 635.49 392.31 638.82 394.14 C642.15 395.97 646.1 398.68 648.8 400.38 C651.5 402.08 653.17 402.5 655.04 404.37 C656.91 406.24 658.38 408.95 660.04 411.61 C661.7 414.27 663.66 417.01 665.03 420.34 C666.4 423.67 667.4 427.83 668.27 431.57 C669.14 435.31 669.73 439.06 670.27 442.8 C670.81 446.54 671.14 450.33 671.52 454.03 C671.89 457.73 672.35 463.18 672.52 465.01" stroke="#0000ff"/>
<path d="M664.53 376.32 L665.41 379.01 L668.24 379.01 L665.95 380.68 L666.82 383.38 L664.53 381.71 L662.24 383.38 L663.11 380.68 L660.82 379.01 L663.65 379.01Z" fill="#ff0000" stroke="#000" stroke-width="1.0" stroke-linejoin="miter"/>
<path d="M655.04 400.77 L655.92 403.46 L658.75 403.46 L656.46 405.13 L657.33 407.83 L655.04 406.16 L652.75 407.83 L653.62 405.13 L651.33 403.46 L654.16 403.46Z" fill="#0000ff" stroke="#000" stroke-width="1.0" stroke-linejoin="miter"/>
</g>
<rect x="557.55" y="346.58" width="116.75" height="118.8" fill="none" stroke="#000" stroke-width="0.8"/>
<path d="M557.55 465.38v3.2M580.9 465.38v3.2M604.25 465.38v3.2M627.6 465.38v3.2M650.95 465.38v3.2M674.3 465.38v3.2M557.55 465.38h-3.2M557.55 441.62h-3.2M557.55 417.86h-3.2M557.55 394.1h-3.2M557.55 370.34h-3.2M557.55 346.58h-3.2" stroke="#000" stroke-width="0.8" fill="none"/>
<g font-size="10.75">
<text x="557.55" y="479.23" transform="rotate(0.03 557.55 479.23)" text-anchor="middle">0.90</text>
<text x="580.9" y="479.23" transform="rotate(0.03 580.9 479.23)" text-anchor="middle">0.92</text>
<text x="604.25" y="479.23" transform="rotate(0.03 604.25 479.23)" text-anchor="middle">0.94</text>
<text x="627.6" y="479.23" transform="rotate(0.03 627.6 479.23)" text-anchor="middle">0.96</text>
<text x="650.95" y="479.23" transform="rotate(0.03 650.95 479.23)" text-anchor="middle">0.98</text>
<text x="674.3" y="479.23" transform="rotate(0.03 674.3 479.23)" text-anchor="middle">1.00</text>
<text x="550.85" y="469.13" transform="rotate(0.03 550.85 469.13)" text-anchor="end">0.90</text>
<text x="550.85" y="445.37" transform="rotate(0.03 550.85 445.37)" text-anchor="end">0.92</text>
<text x="550.85" y="421.61" transform="rotate(0.03 550.85 421.61)" text-anchor="end">0.94</text>
<text x="550.85" y="397.85" transform="rotate(0.03 550.85 397.85)" text-anchor="end">0.96</text>
<text x="550.85" y="374.09" transform="rotate(0.03 550.85 374.09)" text-anchor="end">0.98</text>
<text x="550.85" y="350.33" transform="rotate(0.03 550.85 350.33)" text-anchor="end">1.00</text>
</g>
<text x="615.92" y="493.78" transform="rotate(0.03 615.92 493.78)" text-anchor="middle" font-size="12.6">Recall</text>
<text transform="translate(525.65 406.48) rotate(-90)" font-size="12.8" text-anchor="middle">Precision</text>
<text x="516.35" y="343.13" transform="rotate(0.03 516.35 343.13)" font-size="12.7">(l)</text>
</g>
<text transform="translate(12.2 405.98) rotate(-90)" font-size="14.4" text-anchor="middle">M01</text>
<g id="legend"><path d="M249.7 514.5H279.9" stroke="#ff0000" stroke-width="1.45"/><text x="291.7" y="519.6" transform="rotate(0.03 291.7 519.6)" font-size="14.4">SegPhase</text>
<path d="M374.8 514.5H405" stroke="#0000ff" stroke-width="1.45"/><text x="416.6" y="519.6" transform="rotate(0.03 416.6 519.6)" font-size="14.4">PhaseNet</text></g>
</svg>
</body>
</html>
